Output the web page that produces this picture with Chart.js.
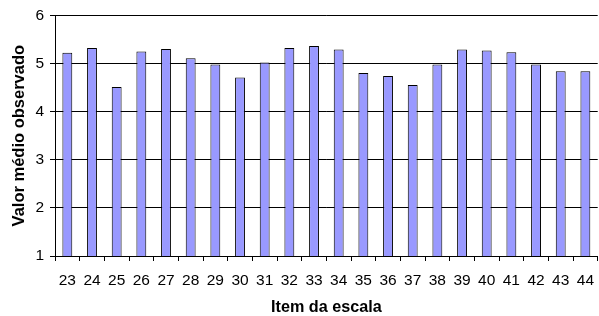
<!DOCTYPE html>
<html>
<head>
<meta charset="utf-8">
<script src="https://cdn.jsdelivr.net/npm/chart.js@4/dist/chart.umd.min.js"></script>
<style>
html, body { margin: 0; padding: 0; overflow: hidden; background: #fff; width: 599px; height: 316px; }
canvas { display: block; }
</style>
</head>
<body>
<canvas id="c" width="604" height="316"></canvas>
<script>
const categories = ["23","24","25","26","27","28","29","30","31","32","33","34","35","36","37","38","39","40","41","42","43","44"];
const meanValues = [5.22, 5.32, 4.51, 5.25, 5.30, 5.11, 4.98, 4.71, 5.02, 5.32, 5.36, 5.29, 4.80, 4.74, 4.55, 4.98, 5.29, 5.27, 5.23, 4.98, 4.84, 4.84];
const yTicks = [1, 2, 3, 4, 5, 6];
const xTitle = "Item da escala";
const yTitle = "Valor médio observado";

Chart.defaults.font.family = "'Liberation Sans', Arial, sans-serif";
Chart.defaults.color = "#000";

new Chart(document.getElementById("c"), {
  type: "bar",
  data: {
    labels: categories,
    datasets: [{
      data: meanValues,
      backgroundColor: "#9999FF",
      borderColor: "#000",
      borderWidth: 1,
      barPercentage: 0.4,
      categoryPercentage: 1.0
    }]
  },
  options: {
    responsive: false,
    animation: false,
    devicePixelRatio: 1,
    layout: { padding: { top: 15, left: 0, right: 0, bottom: 0 } },
    plugins: { legend: { display: false }, tooltip: { enabled: false } },
    scales: {
      x: {
        grid: { display: true, drawOnChartArea: false, drawTicks: true, tickLength: 5, color: "#000", offset: true },
        border: { display: true, color: "#000" },
        ticks: { font: { size: 15.5 }, padding: 10, maxRotation: 0, autoSkip: false, color: "#000" },
        title: { display: true, text: xTitle, font: { size: 16.2, weight: "bold", lineHeight: 1 }, padding: { top: 0, bottom: 0 }, color: "#000" },
        afterFit: (s) => { s.height = 60; }
      },
      y: {
        min: yTicks[0],
        max: yTicks[yTicks.length - 1],
        afterBuildTicks: (s) => { s.ticks = yTicks.map(v => ({ value: v })); },
        grid: { color: "#000", lineWidth: 1, drawTicks: true, tickLength: 5 },
        border: { display: true, color: "#000" },
        ticks: { font: { size: 15.5 }, padding: 6, color: "#000" },
        title: { display: true, text: yTitle, font: { size: 16.5, weight: "bold" }, padding: { top: 10, bottom: 0 }, color: "#000" },
        afterFit: (s) => { s.width = 55; }
      }
    }
  }
});
</script>
</body>
</html>
